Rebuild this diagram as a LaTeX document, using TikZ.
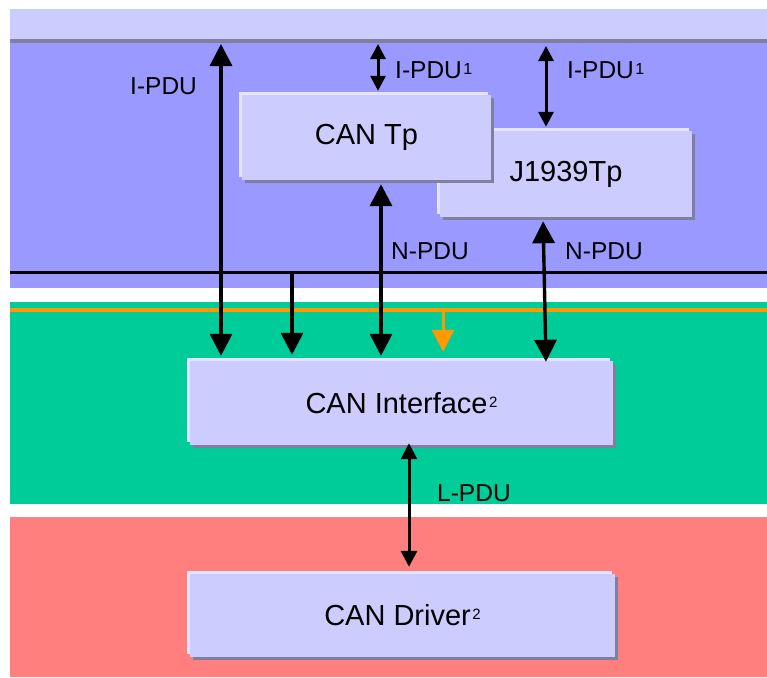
\documentclass[tikz,border=0pt]{standalone}
\usepackage{fontspec}
\setmainfont{Liberation Sans}
\usetikzlibrary{arrows.meta,shadows}
\definecolor{topc}{HTML}{CCCCFF}
\definecolor{linec}{HTML}{7F7F9F}
\definecolor{purc}{HTML}{9999FF}
\definecolor{grnc}{HTML}{00CC99}
\definecolor{redc}{HTML}{FF7F7F}
\definecolor{boxc}{HTML}{CCCCFF}
\definecolor{hic}{HTML}{E4E4FF}
\definecolor{shc}{HTML}{7F7F9F}
\definecolor{orc}{HTML}{FF9900}
% #1 raise, #2 size, #3 text
\newcommand\supr[3]{\hspace{1.5pt}\raisebox{#1}{\fontsize{#2}{#2}\selectfont #3}}
\tikzset{
  modbox/.style={fill=boxc, draw=none, inner sep=0pt,
    font=\fontsize{29}{32}\selectfont,
    copy shadow={shadow xshift=3.3pt, shadow yshift=-3.3pt, fill=shc, draw=none},
    copy shadow={shadow xshift=-3.3pt, shadow yshift=3.3pt, fill=hic, draw=none}},
  lbl/.style={anchor=west, inner sep=0pt, font=\fontsize{24.5}{26}\selectfont},
  bigarr/.style={line width=3.4pt,
    {Triangle[width=22pt,length=22pt]}-{Triangle[width=22pt,length=22pt]}},
  smallarr/.style={line width=3pt,
    {Triangle[width=15pt,length=15pt]}-{Triangle[width=15pt,length=15pt]}},
  onearr/.style={line width=3.4pt, -{Triangle[width=22pt,length=22pt]}},
}
\begin{document}
\begin{tikzpicture}[x=1pt,y=-1pt]
\useasboundingbox (0,0) rectangle (767,677);
% layers
\fill[topc] (10,9) rectangle (767,39);
\fill[linec] (10,39) rectangle (767,43);
\fill[purc] (10,43) rectangle (767,288);
\fill[grnc] (10,302) rectangle (767,504);
\fill[redc] (10,517) rectangle (767,677);
\draw[line width=3pt] (10,272) -- (767,272);
\draw[orc, line width=3.4pt] (10,310) -- (767,310);
% modules
\node[modbox, minimum width=252pt, minimum height=86pt] (j) at (566,174) {J1939Tp};
\node[modbox, minimum width=249pt, minimum height=85pt] (tp) at (366.5,137.5) {CAN Tp};
\node[modbox, minimum width=423pt, minimum height=84pt] (canif) at (401.5,403) {CAN Interface\supr{6pt}{15}{2}};
\node[modbox, minimum width=425pt, minimum height=83pt] (drv) at (402.5,615.5) {CAN Driver\supr{6pt}{15}{2}};
% free ends
\coordinate (a1) at (221,44);
\coordinate (a2) at (378,44);
\coordinate (a3) at (546,46);
\coordinate (b1) at (292,272);
\coordinate (o1) at (443,310);
% connectors
\draw[bigarr, shorten >=5pt] (a1) -- (a1 |- canif.north);
\draw[smallarr, shorten >=4pt] (a2) -- (a2 |- tp.north);
\draw[smallarr, shorten >=4pt] (a3) -- (a3 |- j.north);
\draw[bigarr, shorten <=4pt, shorten >=5pt] (tp.south -| 381,0) -- (381,0 |- canif.north);
\draw[bigarr, shorten <=4pt, shorten >=-1pt] (j.south -| 543,0) -- (546,0 |- canif.north);
\draw[onearr, shorten >=6pt] (b1) -- (b1 |- canif.north);
\draw[orc, line width=3pt, -{Triangle[width=22pt,length=22pt]}, shorten >=9pt] (o1) -- (o1 |- canif.north);
\draw[line width=3pt, {Triangle[width=16pt,length=16pt]}-{Triangle[width=16pt,length=16pt]}, shorten <=-2pt, shorten >=7pt] (canif.south -| 409,0) -- (409,0 |- drv.north);
% labels
\node[lbl] (l1) at (130,86) {I-PDU};
\node[lbl] (l2) at (395,70) {I-PDU\supr{4pt}{16}{1}};
\node[lbl] (l3) at (567,70) {I-PDU\supr{4pt}{16}{1}};
\node[lbl] (l4) at (391,251) {N-PDU};
\node[lbl] (l5) at (565,251) {N-PDU};
\node[lbl] (l6) at (437,493) {L-PDU};
\end{tikzpicture}
\end{document}
